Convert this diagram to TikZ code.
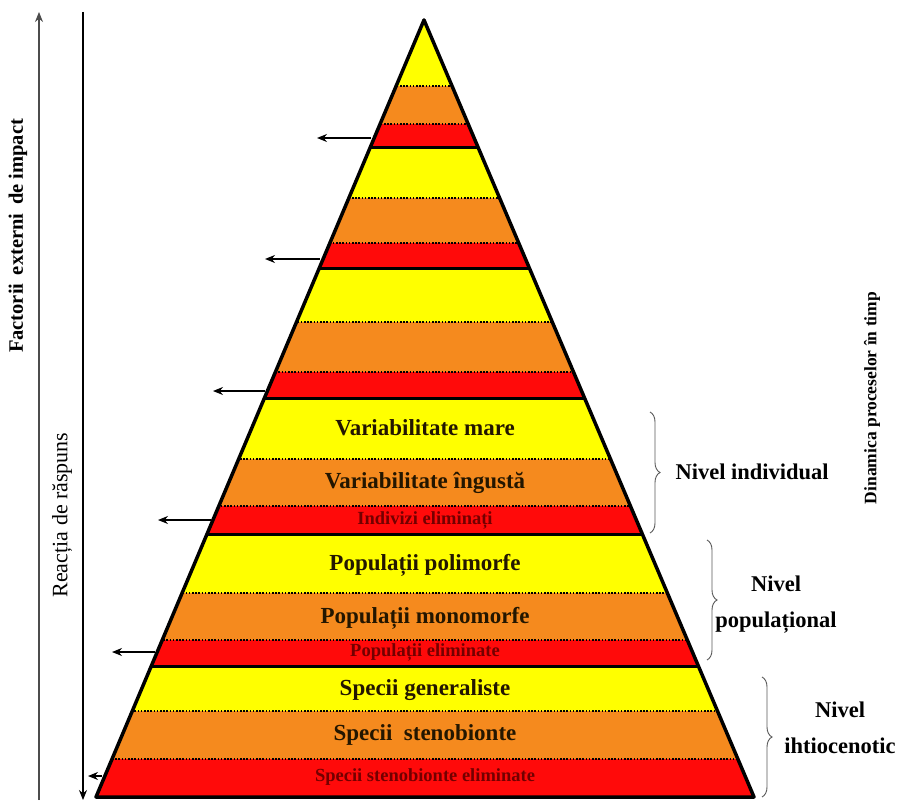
\documentclass[tikz,border=0pt]{standalone}
\usepackage{fontspec}
\setmainfont{Liberation Serif}
\usetikzlibrary{arrows.meta,positioning,decorations.pathreplacing}
\definecolor{bandyellow}{RGB}{255,255,0}
\definecolor{bandorange}{RGB}{245,138,30}
\definecolor{bandred}{RGB}{255,10,10}
\definecolor{elimtext}{RGB}{115,0,0}
\definecolor{darktext}{RGB}{35,22,0}
\tikzset{
  lbl/.style={font=\fontsize{23}{24}\selectfont\bfseries, text=darktext, text height=15pt, text depth=4pt},
  elim/.style={font=\fontsize{18.5}{20}\selectfont\bfseries, text=elimtext, text height=12pt, text depth=3pt},
  level/.style={font=\fontsize{22.5}{36}\selectfont\bfseries, align=center},
  side/.style={rotate=90, font=\fontsize{22}{24}\selectfont},
  sep/.style={line width=1.8pt, dash pattern=on 1.6pt off 1.6pt},
  cut/.style={line width=3pt},
  hit/.style={-{Stealth[length=10pt,width=8pt]}, line width=1.2pt},
  lvl/.style={decorate, decoration={brace, amplitude=10pt}, line width=0.9pt, draw=black!65}
}

\begin{document}
\begin{tikzpicture}[x=1pt,y=-1pt]
  \path[fill=white, use as bounding box] (0,0) rectangle (901,802);

  % Define the pyramid
  \coordinate (A) at (424,20);
  \coordinate (BL) at (96,797);
  \coordinate (BR) at (754,797);

  \begin{scope}
    \clip (A) -- (BL) -- (BR) -- cycle;
    \foreach \ya/\yb/\col in {20/86/bandyellow, 86/124/bandorange, 124/148/bandred,
        148/198/bandyellow, 198/243/bandorange, 243/268/bandred,
        268/322/bandyellow, 322/372/bandorange, 372/398/bandred,
        398/459/bandyellow, 459/506/bandorange, 506/534/bandred,
        534/593/bandyellow, 593/640/bandorange, 640/666/bandred,
        666/711/bandyellow, 711/759/bandorange, 759/797/bandred}
      \fill[\col] (0,\ya) rectangle (901,\yb);
    \foreach \y in {86,124,198,243,322,372,459,506,593,640,711,759}
      \draw[sep] (0,\y) -- (901,\y);
    \foreach \y in {148,268,398,534,666}
      \draw[cut] (0,\y) -- (901,\y);
  \end{scope}
  \draw[line width=3.5pt, line join=round] (A) -- (BL) -- (BR) -- cycle;

  % Band labels
  \node[lbl] (vmare) at (425,430) {Variabilitate mare};
  \node[lbl] (vingusta) at (425,483) {Variabilitate îngustă};
  \node[elim] (ielim) at (425,520) {Indivizi eliminați};
  \node[lbl] (ppoli) at (425,565) {Populații polimorfe};
  \node[lbl] (pmono) at (425,618) {Populații monomorfe};
  \node[elim] (pelim) at (425,652) {Populații eliminate};
  \node[lbl] (sgen) at (425,690) {Specii generaliste};
  \node[lbl] (ssteno) at (425,735) {Specii\ \ stenobionte};
  \node[elim] (selim) at (425,777) {Specii stenobionte eliminate};

  % Eliminated fractions leave the pyramid
  \foreach \y/\xa/\xb [count=\i] in {138/371/317, 259/320/265, 391/265/213,
      520/211/158, 652/155/112, 776/102/88} {
    \coordinate (e\i) at (\xa,\y);
    \coordinate (f\i) at (\xb,\y);
    \draw[hit] (e\i) -- (f\i);
  }

  % Side axes
  \coordinate (up0) at (39,800);
  \coordinate (up1) at (39,12);
  \coordinate (dn0) at (83,12);
  \coordinate (dn1) at (83,800);
  \draw[hit, draw=black!70, fill=black!70] (up0) -- (up1);
  \draw[hit] (dn0) -- (dn1);
  \node[side, font=\fontsize{20.5}{24}\selectfont\bfseries] (factori) at (18,236) {Factorii\, externi\, de impact};
  \node[side] (reactia) at (62,515) {Reacția de răspuns};
  \node[side, font=\fontsize{17.5}{20}\selectfont\bfseries] (dinamica) at (872,398) {Dinamica proceselor în timp};

  % Levels
  \coordinate (b1t) at (650,412);
  \coordinate (b1b) at (650,533);
  \coordinate (b1) at (660,472);
  \draw[lvl] (b1t) -- (b1b);
  \node[level, right=12pt of b1] (individual) {Nivel individual};

  \coordinate (b2t) at (707,540);
  \coordinate (b2b) at (707,660);
  \draw[lvl] (b2t) -- (b2b);
  \node[level] (populational) at (776,605) {Nivel\\populațional};

  \coordinate (b3t) at (762,677);
  \coordinate (b3b) at (762,797);
  \draw[lvl] (b3t) -- (b3b);
  \node[level] (ihtiocenotic) at (840,728) {Nivel\\ihtiocenotic};
\end{tikzpicture}
\end{document}
